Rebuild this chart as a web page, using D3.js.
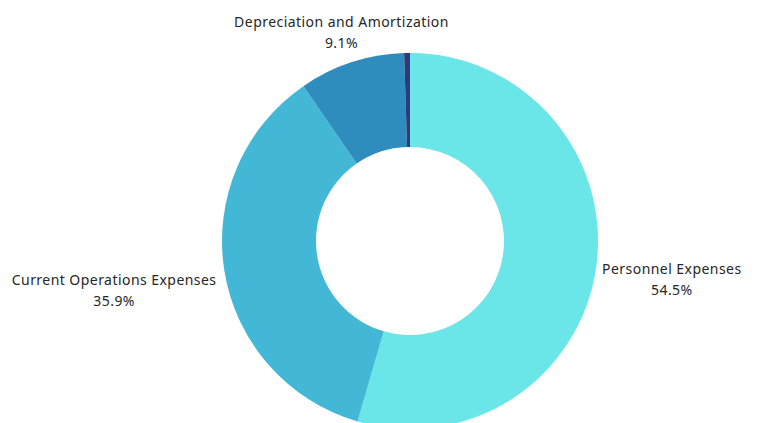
<!DOCTYPE html>
<html>
<head>
<meta charset="utf-8">
<script src="https://cdn.jsdelivr.net/npm/d3@7/dist/d3.min.js"></script>
<style>
  html, body { margin: 0; padding: 0; background: #ffffff; }
  svg { display: block; }
  text { font-family: "Noto Sans", sans-serif; font-size: 14px; letter-spacing: 0.45px; fill: #262626; }
</style>
</head>
<body>
<svg id="chart" width="757" height="423"></svg>
<script>
const categories = ["Personnel Expenses", "Current Operations Expenses", "Depreciation and Amortization", "Other"];
const values = [54.5, 35.9, 9.1, 0.5];
const colors = ["#6ae5e8", "#43b8d6", "#2e8dbd", "#2e3a7c"];
const showLabel = [true, true, true, false];

const width = 757, height = 423;
const cx = 410, cy = 241, outerR = 188, innerR = 94;

const svg = d3.select("#chart");
const g = svg.append("g").attr("transform", `translate(${cx},${cy})`);

const data = categories.map((c, i) => ({ name: c, value: values[i], color: colors[i], label: showLabel[i] }));

const pie = d3.pie().value(d => d.value).sort(null);
const arc = d3.arc().innerRadius(innerR).outerRadius(outerR);
const arcs = pie(data);

g.selectAll("path.slice")
  .data(arcs)
  .enter().append("path")
  .attr("class", "slice")
  .attr("d", arc)
  .attr("fill", d => d.data.color);

const labelR = 194;
g.selectAll("g.label")
  .data(arcs.filter(d => d.data.label))
  .enter().append("g")
  .attr("class", "label")
  .each(function(d) {
    const a = (d.startAngle + d.endAngle) / 2;
    const s = Math.sin(a), c = -Math.cos(a);
    const px = labelR * s, py = labelR * c;
    const sel = d3.select(this);
    const t1 = sel.append("text")
      .attr("text-anchor", "middle")
      .attr("dominant-baseline", "middle")
      .text(d.data.name);
    const t2 = sel.append("text")
      .attr("text-anchor", "middle")
      .attr("dominant-baseline", "middle")
      .text(d3.format(".1f")(d.data.value) + "%");
    const w = Math.max(t1.node().getComputedTextLength(), t2.node().getComputedTextLength());
    let x, y0;
    if (Math.abs(s) < 0.5) {
      x = px - 8;
      y0 = py - 33;
    } else if (s > 0) {
      x = px + w / 2;
      y0 = py + 2;
    } else {
      x = px - w / 2 - 2;
      y0 = py + 9;
    }
    t1.attr("x", x).attr("y", y0);
    t2.attr("x", x).attr("y", y0 + 21);
  });
</script>
</body>
</html>
